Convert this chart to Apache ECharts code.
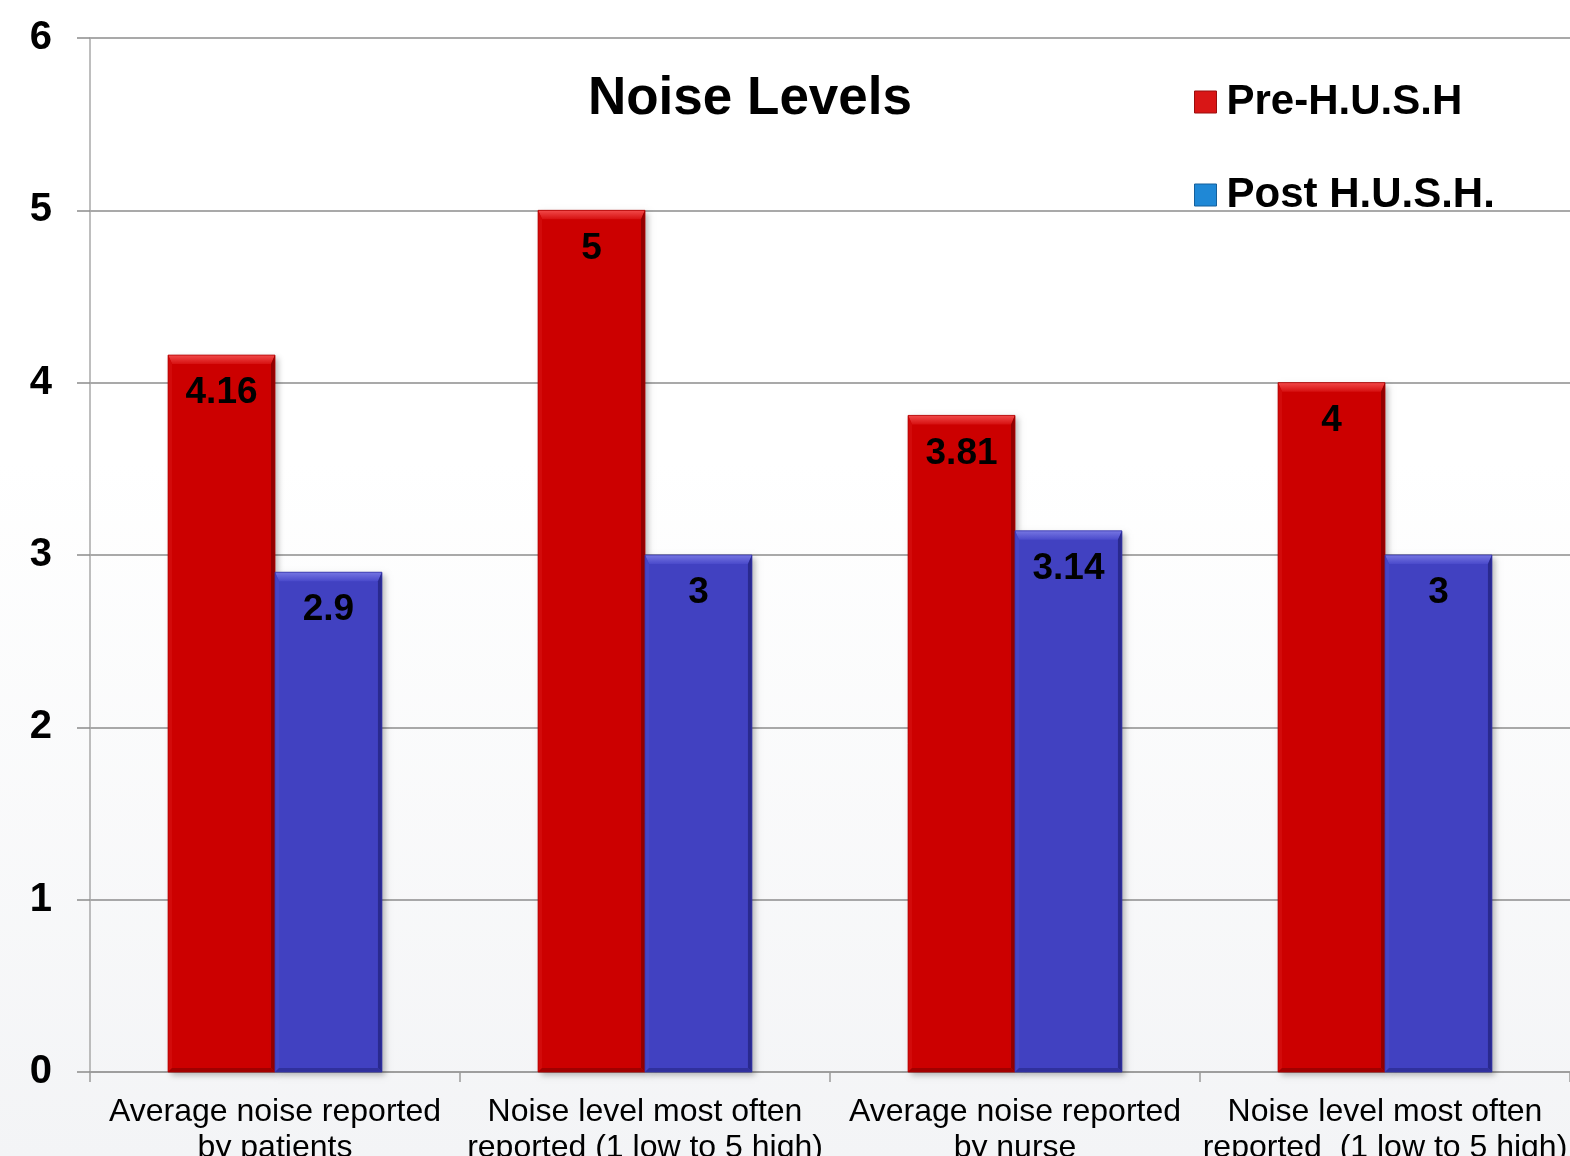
<!DOCTYPE html>
<html>
<head>
<meta charset="utf-8">
<title>Noise Levels</title>
<script src="https://cdn.jsdelivr.net/npm/echarts@6/dist/echarts.min.js"></script>
<style>
  html, body { margin: 0; padding: 0; }
  #chart {
    width: 1570px; height: 1156px;
    background: linear-gradient(to bottom, #ffffff 0%, #ffffff 40%, #f3f4f6 100%);
  }
</style>
</head>
<body>
<div id="chart"></div>
<script>
// Survey categories (x axis)
const categories = [
  'Average noise reported\nby patients',
  'Noise level most often\nreported (1 low to 5 high)',
  'Average noise reported\nby nurse',
  'Noise level most often\nreported  (1 low to 5 high)'
];
// Series values
const preHush = [4.16, 5, 3.81, 4];
const postHush = [2.9, 3, 3.14, 3];
// Y axis range
const yMin = 0, yMax = 6, yStep = 1;

const FONT = 'Liberation Sans, Arial, sans-serif';
const BAR_RATIO = 0.289; // each bar's share of a category band

// Colour sets for the bevelled bars
const redPal = {
  face: '#cc0000', topA: '#f24a4a', topB: '#d61010',
  left: '#d20a0a', right: '#920000', bottom: '#a00000', edge: '#b00000'
};
const bluePal = {
  face: '#4141c1', topA: '#7676e2', topB: '#4a4acb',
  left: '#4646c6', right: '#29298e', bottom: '#30309c', edge: '#3636aa'
};

// Draws one bevelled bar; side -1 = left of the category centre, +1 = right
function bevelBar(side, pal) {
  return function (params, api) {
    const i = api.value(0);
    const v = api.value(1);
    const top = api.coord([i, v]);
    const base = api.coord([i, 0]);
    const band = api.size([1, 0])[0];
    const w = band * BAR_RATIO;
    const x0 = side < 0 ? top[0] - w : top[0];
    const x1 = x0 + w;
    const y0 = top[1];
    const y1 = base[1];
    const bt = 9, bs = 4, bb = 4;
    return {
      type: 'group',
      children: [
        {
          type: 'rect',
          shape: { x: x0, y: y0, width: w, height: y1 - y0 },
          style: {
            fill: pal.face,
            shadowColor: 'rgba(0,0,0,0.28)',
            shadowBlur: 6,
            shadowOffsetX: 3,
            shadowOffsetY: 3
          }
        },
        {
          type: 'polygon',
          shape: { points: [[x0, y0], [x1, y0], [x1 - bs, y0 + bt], [x0 + bs, y0 + bt]] },
          style: {
            fill: new echarts.graphic.LinearGradient(0, 0, 0, 1, [
              { offset: 0, color: pal.topA },
              { offset: 1, color: pal.topB }
            ])
          }
        },
        {
          type: 'polygon',
          shape: { points: [[x0, y0], [x0 + bs, y0 + bt], [x0 + bs, y1 - bb], [x0, y1]] },
          style: { fill: pal.left }
        },
        {
          type: 'polygon',
          shape: { points: [[x1, y0], [x1 - bs, y0 + bt], [x1 - bs, y1 - bb], [x1, y1]] },
          style: { fill: pal.right }
        },
        {
          type: 'polygon',
          shape: { points: [[x0, y1], [x0 + bs, y1 - bb], [x1 - bs, y1 - bb], [x1, y1]] },
          style: { fill: pal.bottom }
        },
        {
          type: 'rect',
          shape: { x: x0, y: y0, width: w, height: y1 - y0 },
          style: { fill: 'none', stroke: pal.edge, lineWidth: 0.8 }
        },
        {
          type: 'text',
          style: {
            x: x0 + w / 2,
            y: y0 + 38,
            text: String(v),
            align: 'center',
            verticalAlign: 'middle',
            fill: '#000',
            font: 'bold 37px ' + FONT
          }
        }
      ]
    };
  };
}

const chart = echarts.init(document.getElementById('chart'), null, { renderer: 'canvas' });

chart.setOption({
  backgroundColor: 'transparent',
  animation: false,
  title: {
    text: 'Noise Levels',
    left: 745,
    textAlign: 'center',
    top: 68,
    textStyle: { fontFamily: FONT, fontWeight: 'bold', fontSize: 53, color: '#000' }
  },
  legend: {
    orient: 'vertical',
    left: 1189,
    top: 76,
    itemWidth: 22,
    itemHeight: 22,
    itemGap: 51,
    icon: 'rect',
    textStyle: {
      fontFamily: FONT,
      fontWeight: 'bold',
      fontSize: 42,
      color: '#000',
      padding: [0, 0, 0, 5]
    },
    data: [
      { name: 'Pre-H.U.S.H', itemStyle: { color: '#d91616', borderColor: '#9a0d0d', borderWidth: 1 } },
      { name: 'Post H.U.S.H.', itemStyle: { color: '#1f88d6', borderColor: '#155f9a', borderWidth: 1 } }
    ]
  },
  grid: {
    left: 90, right: 0, top: 38, bottom: 84,
    containLabel: false,
    outerBoundsMode: 'none'
  },
  xAxis: {
    type: 'category',
    data: categories,
    axisLine: { show: true, lineStyle: { color: '#9a9a9a', width: 1.5 } },
    axisTick: { show: true, length: 10, lineStyle: { color: '#9a9a9a', width: 1.5 } },
    axisLabel: {
      margin: 22,
      interval: 0,
      color: '#000',
      fontFamily: FONT,
      fontSize: 32,
      lineHeight: 36
    }
  },
  yAxis: {
    type: 'value',
    min: yMin,
    max: yMax,
    interval: yStep,
    axisLine: { show: true, lineStyle: { color: '#a8a8a8', width: 1.5 } },
    axisTick: { show: true, length: 13, lineStyle: { color: '#8c8c8c', width: 1.5 } },
    splitLine: { show: true, lineStyle: { color: '#8c8c8c', width: 1.5 } },
    axisLabel: {
      margin: 38,
      color: '#000',
      fontFamily: FONT,
      fontWeight: 'bold',
      fontSize: 40,
      padding: [6, 0, 0, 0]
    }
  },
  series: [
    {
      name: 'Pre-H.U.S.H',
      type: 'custom',
      renderItem: bevelBar(-1, redPal),
      encode: { x: 0, y: 1 },
      data: preHush.map((v, i) => [i, v])
    },
    {
      name: 'Post H.U.S.H.',
      type: 'custom',
      renderItem: bevelBar(1, bluePal),
      encode: { x: 0, y: 1 },
      data: postHush.map((v, i) => [i, v])
    }
  ]
});
</script>
</body>
</html>
